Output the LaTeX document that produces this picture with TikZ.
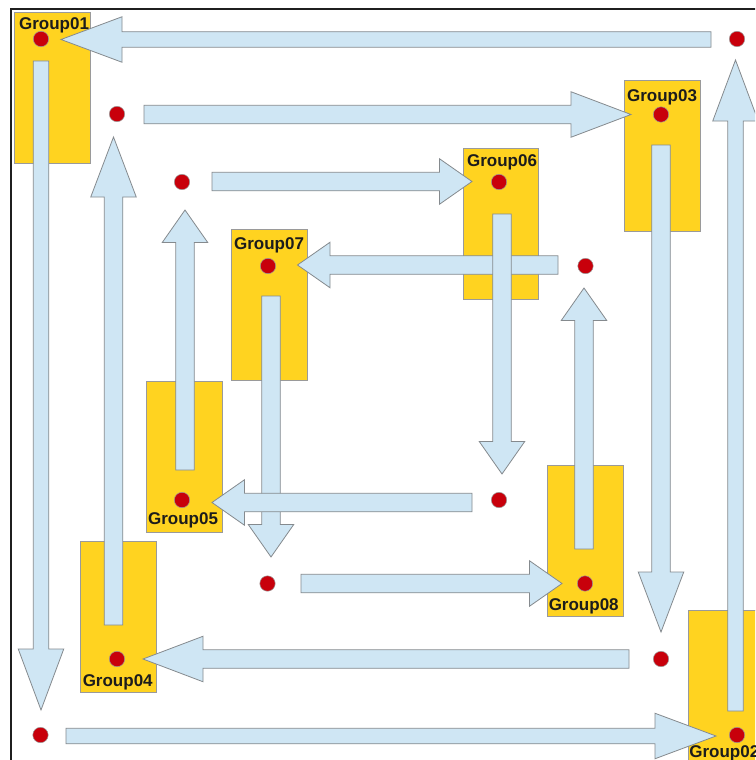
\documentclass[tikz,border=0pt]{standalone}
\usepackage{fontspec}
\setmainfont{Liberation Sans}
\usetikzlibrary{calc}

\definecolor{boxyellow}{HTML}{FFD320}
\definecolor{boxedge}{HTML}{9A9A9A}
\definecolor{arrowfill}{HTML}{CFE6F4}
\definecolor{arrowedge}{HTML}{858A8E}
\definecolor{dotred}{HTML}{C8000B}
\definecolor{labeltext}{HTML}{1C1C1C}

% half width of every arrow head
\newcommand\headhw{22.75pt}

% block arrow: #1 extra style, #2 tail point, #3 tip point,
% #4 half shaft width, #5 head length
\newcommand\blockarr[5]{%
  \draw[blockarrow,#1] let \p1=(#2), \p2=(#3),
      \n1={atan2(\y2-\y1,\x2-\x1)},
      \p3=($(\p2)!#5!(\p1)$) in
    ($(\p1)+(\n1+90:#4)$) -- ($(\p3)+(\n1+90:#4)$) --
    ($(\p3)+(\n1+90:\headhw)$) -- (\p2) --
    ($(\p3)+(\n1-90:\headhw)$) -- ($(\p3)+(\n1-90:#4)$) --
    ($(\p1)+(\n1-90:#4)$) -- cycle;}

\begin{document}
\begin{tikzpicture}[x=1pt,y=-1pt,
  groupbox/.style={draw=boxedge,line width=0.7pt,fill=boxyellow,
    minimum width=75.5pt,minimum height=151pt,inner sep=0pt},
  reddot/.style={circle,draw=boxedge,line width=0.5pt,fill=dotred,
    minimum size=15.4pt,inner sep=0pt},
  blockarrow/.style={draw=arrowedge,line width=0.8pt,fill=arrowfill,
    line join=miter},
  grouplabel/.style={anchor=base,inner sep=0pt,text=labeltext,
    font=\fontsize{17}{20}\selectfont\bfseries},
  frameline/.style={draw=black!88,line width=1.2pt}]

\useasboundingbox (0,0) rectangle (755,760);
\clip (0,0) rectangle (755,760);
\fill[white] (0,0) rectangle (755,760);

% outer frame
\draw[frameline] (11,765) -- (11,9) -- (760,9);

% group boxes
\node[groupbox] (g01) at (52.3,87.5) {};
\node[groupbox] (g03) at (662.5,155.5) {};
\node[groupbox] (g06) at (500.8,223.5) {};
\node[groupbox] (g07) at (269.5,305) {};
\node[groupbox] (g05) at (184.5,456.7) {};
\node[groupbox] (g04) at (118.2,616.8) {};
\node[groupbox] (g08) at (585.5,541.2) {};
\node[groupbox] (g02) at (726,685.5) {};

% stations (placed first so the arrows can refer to them)
\path
  (41,39)      coordinate (d01)
  (117,114)    coordinate (dA)
  (182,182)    coordinate (dB)
  (268,266)    coordinate (d07)
  (182,500)    coordinate (d05)
  (117,659)    coordinate (d04)
  (40.5,735)   coordinate (dC)
  (267.5,583.5) coordinate (dD)
  (585,583.5)  coordinate (d08)
  (499,500)    coordinate (dE)
  (499,182)    coordinate (d06)
  (585.5,266)  coordinate (dF)
  (661,114.5)  coordinate (d03)
  (737,39)     coordinate (dG)
  (661,659)    coordinate (dH)
  (737,735)    coordinate (d02);

% outer ring
\blockarr{}{[shift={(-26,0.5)}]dG}{[shift={(20,0.5)}]d01}{7.75pt}{61pt}
\blockarr{}{[shift={(0,22)}]d01}{[shift={(0.5,-25)}]dC}{7.75pt}{61pt}
\blockarr{}{[shift={(25.5,1)}]dC}{[shift={(-21,1)}]d02}{7.75pt}{61pt}
\blockarr{}{[shift={(-1.5,-24)}]d02}{[shift={(-1.5,21)}]dG}{7.75pt}{61pt}

% second ring
\blockarr{}{[shift={(27,0.5)}]dA}{[shift={(-30,0)}]d03}{9.25pt}{60pt}
\blockarr{}{[shift={(0,30.5)}]d03}{[shift={(0,-27)}]dH}{9.25pt}{60pt}
\blockarr{}{[shift={(-32,0)}]dH}{[shift={(26,0)}]d04}{9.25pt}{60pt}
\blockarr{}{[shift={(-3.5,-34)}]d04}{[shift={(-3.5,23)}]dA}{9.25pt}{60pt}

% inner ring
\blockarr{}{[shift={(30,-0.5)}]dB}{[shift={(-27,-0.5)}]d06}{9.25pt}{32.5pt}
\blockarr{}{[shift={(-27.5,-1)}]dF}{[shift={(29.5,-1)}]d07}{9.25pt}{32.5pt}
\blockarr{}{[shift={(3,32)}]d06}{[shift={(3,-26)}]dE}{9.25pt}{32.5pt}
\blockarr{}{[shift={(3,30)}]d07}{[shift={(3.5,-26.5)}]dD}{9.25pt}{32.5pt}
\blockarr{}{[shift={(-27,2.5)}]dE}{[shift={(30,2.5)}]d05}{9.25pt}{32.5pt}
\blockarr{}{[shift={(3,-30)}]d05}{[shift={(3,28)}]dB}{9.25pt}{32.5pt}
\blockarr{}{[shift={(33.5,0)}]dD}{[shift={(-23,0)}]d08}{9.25pt}{32.5pt}
\blockarr{}{[shift={(-1,-34.5)}]d08}{[shift={(-1.5,22)}]dF}{9.25pt}{32.5pt}

% red station dots
\foreach \d in {d01,dA,dB,d07,d05,d04,dC,dD,d08,dE,d06,dF,d03,dG,dH,d02}
  \node[reddot] (n\d) at (\d) {};

% group labels
\node[grouplabel] (l01) at (54,29.3)    {Group01};
\node[grouplabel] (l03) at (662,101)    {Group03};
\node[grouplabel] (l06) at (502,166.7)  {Group06};
\node[grouplabel] (l07) at (269,249.3)  {Group07};
\node[grouplabel] (l05) at (183,524)    {Group05};
\node[grouplabel] (l04) at (117.7,686.7) {Group04};
\node[grouplabel] (l08) at (583.7,610.7) {Group08};
\node[grouplabel] (l02) at (724.3,757.7) {Group02};
\end{tikzpicture}
\end{document}
